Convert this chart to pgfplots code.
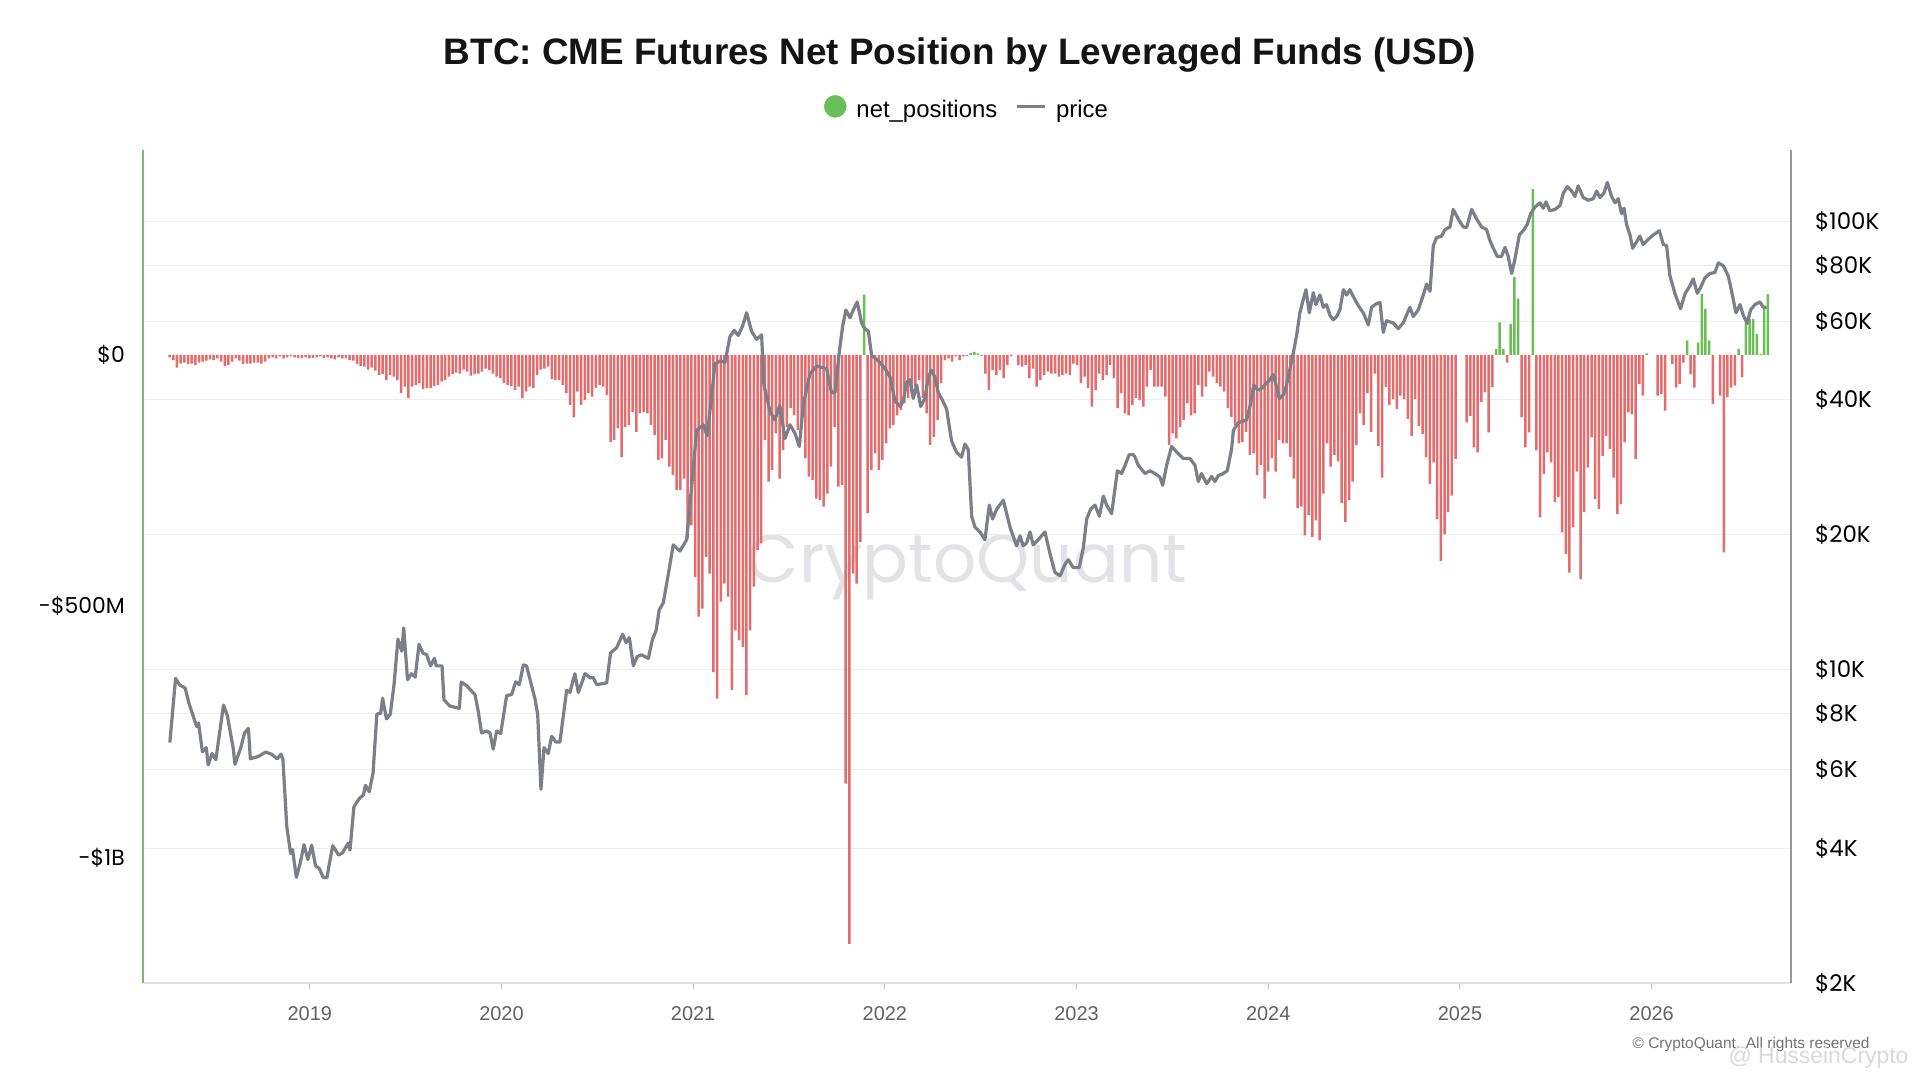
\documentclass[border=0pt]{standalone}
\usepackage{pgfplots}
\pgfplotsset{compat=1.18}
\usepackage{pgfplotstable}
\usepackage{fontspec}
\setmainfont{Liberation Sans}
\newfontfamily\pop{Poppins}
\definecolor{barred}{RGB}{228,108,108}
\definecolor{bargreen}{RGB}{106,190,86}
\definecolor{pricegray}{RGB}{124,126,136}
\definecolor{axgreen}{RGB}{125,185,115}
\definecolor{axgray}{RGB}{150,150,150}
\definecolor{gridc}{RGB}{238,238,241}
\definecolor{wm}{RGB}{226,226,231}

\pgfplotstableread[row sep=\\]{v\\
-5\\-10\\-25\\-17\\-15\\-18\\-17\\-20\\-15\\-13\\
-11\\-9\\-10\\-7\\-13\\-22\\-20\\-13\\-7\\-11\\
-18\\-17\\-17\\-15\\-15\\-17\\-13\\-7\\-5\\-7\\
-3\\-7\\-5\\-3\\-5\\-6\\-7\\-5\\-7\\-6\\
-5\\-3\\-6\\-5\\-7\\-9\\-5\\-7\\-7\\-10\\
-11\\-18\\-22\\-23\\-29\\-25\\-31\\-40\\-38\\-50\\
-40\\-43\\-50\\-76\\-63\\-86\\-63\\-60\\-56\\-68\\
-66\\-66\\-62\\-60\\-53\\-50\\-43\\-38\\-35\\-37\\
-29\\-33\\-41\\-38\\-37\\-33\\-27\\-30\\-37\\-43\\
-46\\-56\\-60\\-62\\-70\\-63\\-86\\-73\\-63\\-66\\
-40\\-29\\-27\\-23\\-48\\
-50\\-50\\-60\\-76\\-100\\-124\\-73\\-100\\-90\\-76\\
-83\\-66\\-60\\-63\\-80\\-173\\-169\\-146\\-203\\-143\\
-139\\-113\\-153\\-116\\-113\\-116\\-139\\-159\\-209\\-206\\
-169\\-222\\-239\\-269\\-269\\-246\\-365\\-339\\-442\\-521\\
-505\\-402\\-435\\-631\\-684\\-491\\-455\\-481\\-667\\-548\\
-568\\-581\\-677\\-548\\-461\\-388\\-375\\-169\\-252\\-229\\
-156\\-246\\-189\\-143\\-106\\-120\\-149\\-143\\-206\\-242\\
-249\\-286\\-289\\-302\\-276\\-222\\-143\\-262\\-259\\-853\\
-1172\\-435\\-455\\-372\\120\\-315\\-229\\-196\\-229\\-209\\
-176\\-146\\-139\\-120\\-110\\-96\\-86\\-76\\-63\\-50\\
-86\\-116\\-179\\-163\\-129\\-56\\-10\\-7\\-13\\-3\\
-10\\-3\\
-2\\4\\6\\3\\-2\\-37\\-70\\-30\\-40\\-30\\
-46\\-20\\-3\\0\\-20\\-23\\-20\\-46\\-27\\-63\\
-50\\-40\\-33\\-37\\-37\\-43\\-40\\-37\\-40\\-17\\
-20\\-56\\-43\\-66\\-103\\-70\\-37\\-50\\-40\\-20\\
-46\\-106\\-76\\-116\\-120\\-100\\-86\\-90\\-103\\-63\\
-30\\-63\\-63\\-63\\-83\\-179\\-156\\-166\\-143\\-129\\
-96\\-120\\-116\\-60\\-83\\-63\\-33\\-43\\-56\\-63\\
-73\\-106\\-123\\-139\\-176\\-173\\-153\\-199\\-196\\-239\\
-219\\-286\\-232\\-206\\-232\\-169\\-176\\-176\\-203\\-246\\
-305\\-302\\-359\\-319\\-362\\-329\\-369\\-276\\-176\\-222\\
-199\\-212\\-295\\-332\\-289\\-252\\-179\\-116\\-139\\-76\\
-153\\-37\\
-181\\-244\\-64\\-100\\-88\\-108\\-81\\-88\\-127\\-161\\
-88\\-141\\-157\\-204\\-257\\-214\\-327\\-410\\-357\\-313\\
-280\\-207\\0\\0\\-134\\-121\\-184\\-194\\-94\\-74\\
-154\\-64\\12\\65\\12\\-15\\62\\155\\112\\-124\\
-184\\-154\\330\\-190\\-323\\-237\\-194\\-214\\-293\\-283\\
-353\\-396\\-433\\-343\\-232\\-446\\-313\\-224\\-164\\-287\\
-307\\-201\\-161\\-187\\-244\\-317\\-297\\-174\\-114\\-118\\
-207\\-58\\-81\\3\\0\\0\\-81\\-78\\-111\\0\\
-18\\-65\\-58\\-15\\29\\-38\\-65\\25\\121\\92\\
29\\-98\\0\\-81\\-393\\-84\\-65\\-61\\12\\-44\\
65\\72\\72\\42\\2\\92\\121\\
}\netpos

\pgfplotstableread[row sep=\\]{yr p\\
2018.27 6880\\ 2018.30 9570\\ 2018.32 9260\\ 2018.35 9100\\ 2018.37 8410\\
2018.41 7470\\ 2018.42 7600\\ 2018.44 6560\\ 2018.46 6700\\ 2018.47 6130\\
2018.49 6500\\ 2018.51 6300\\ 2018.55 8340\\ 2018.57 7900\\ 2018.60 6700\\
2018.61 6150\\ 2018.64 6700\\ 2018.66 7230\\ 2018.68 7400\\ 2018.69 6330\\
2018.73 6400\\ 2018.77 6550\\ 2018.80 6480\\ 2018.83 6330\\ 2018.85 6480\\
2018.86 6300\\ 2018.88 4470\\ 2018.90 3890\\ 2018.91 3970\\ 2018.93 3440\\
2018.95 3700\\ 2018.97 4070\\ 2018.99 3770\\ 2019.01 4060\\ 2019.03 3650\\
2019.05 3600\\ 2019.07 3440\\ 2019.09 3440\\ 2019.10 3650\\ 2019.12 4050\\
2019.15 3860\\ 2019.17 3900\\ 2019.20 4100\\ 2019.21 3960\\ 2019.23 4940\\
2019.26 5170\\ 2019.28 5250\\ 2019.29 5520\\ 2019.31 5340\\ 2019.33 5880\\
2019.35 7960\\ 2019.37 8000\\ 2019.38 8640\\ 2019.40 7770\\ 2019.42 7960\\
2019.44 9300\\ 2019.46 11700\\ 2019.48 11000\\ 2019.49 12400\\ 2019.51 9500\\
2019.53 9800\\ 2019.55 9630\\ 2019.57 11400\\ 2019.59 10900\\ 2019.61 10800\\
2019.63 10200\\ 2019.65 10600\\ 2019.66 10200\\ 2019.69 10200\\ 2019.70 8570\\
2019.73 8300\\ 2019.78 8200\\ 2019.79 9390\\ 2019.82 9200\\ 2019.84 9000\\
2019.862 8800\\ 2019.879 8070\\ 2019.896 7230\\ 2019.923 7300\\ 2019.940 7230\\
2019.957 6650\\ 2019.975 7300\\ 2019.996 7200\\ 2020.027 8760\\ 2020.053 8800\\
2020.074 9400\\ 2020.093 9260\\ 2020.114 10250\\ 2020.131 10200\\ 2020.152 9400\\
2020.175 8600\\ 2020.189 7950\\ 2020.206 5410\\ 2020.222 6700\\ 2020.244 6500\\
2020.262 7100\\ 2020.284 6900\\ 2020.305 6900\\ 2020.340 9000\\ 2020.357 8900\\
2020.383 9800\\ 2020.401 8900\\ 2020.436 9800\\ 2020.462 9600\\ 2020.479 9600\\
2020.496 9270\\ 2020.522 9300\\ 2020.549 9350\\ 2020.569 10900\\ 2020.601 11200\\
2020.632 12000\\ 2020.650 11500\\ 2020.667 11800\\ 2020.688 10200\\ 2020.708 10700\\
2020.731 10800\\ 2020.748 10700\\ 2020.766 10600\\ 2020.788 11700\\ 2020.806 12200\\
2020.823 13600\\ 2020.844 14100\\ 2020.870 16300\\ 2020.896 19000\\ 2020.931 18400\\
2020.966 19500\\ 2020.992 25600\\ 2021.018 34200\\ 2021.053 35200\\ 2021.073 33300\\
2021.091 38900\\ 2021.114 48200\\ 2021.143 48900\\ 2021.166 48500\\ 2021.192 55400\\
2021.215 57200\\ 2021.235 55700\\ 2021.258 58500\\ 2021.279 62600\\ 2021.305 56900\\
2021.331 54600\\ 2021.357 55900\\ 2021.369 43200\\ 2021.401 37700\\ 2021.426 36100\\
2021.452 38900\\ 2021.479 32800\\ 2021.505 35200\\ 2021.531 33700\\ 2021.554 31500\\
2021.575 39200\\ 2021.609 45700\\ 2021.644 47600\\ 2021.696 47000\\ 2021.722 41500\\
2021.740 41500\\ 2021.762 51000\\ 2021.780 58500\\ 2021.797 63500\\ 2021.818 61000\\
2021.835 63500\\ 2021.856 66200\\ 2021.879 59300\\ 2021.896 57700\\ 2021.914 56900\\
2021.931 50300\\ 2021.966 48900\\ 2022.001 47000\\ 2022.027 45000\\ 2022.053 39800\\
2022.079 38700\\ 2022.096 39800\\ 2022.114 43800\\ 2022.131 44400\\ 2022.148 40300\\
2022.166 43200\\ 2022.187 38700\\ 2022.209 40300\\ 2022.227 45000\\ 2022.244 46600\\
2022.261 45000\\ 2022.279 41500\\ 2022.296 40300\\ 2022.322 38200\\ 2022.348 32400\\
2022.374 30600\\ 2022.400 29800\\ 2022.418 31900\\ 2022.435 31000\\ 2022.453 22000\\
2022.470 20800\\ 2022.496 20300\\ 2022.522 19500\\ 2022.545 23300\\ 2022.562 21700\\
2022.583 22800\\ 2022.618 23900\\ 2022.653 20800\\ 2022.687 18900\\ 2022.705 19900\\
2022.722 18900\\ 2022.740 19200\\ 2022.757 20300\\ 2022.774 19000\\ 2022.800 19500\\
2022.835 20300\\ 2022.861 18200\\ 2022.887 16500\\ 2022.914 16200\\ 2022.940 17200\\
2022.957 17600\\ 2022.983 16900\\ 2023.014 16900\\ 2023.035 18700\\ 2023.053 21700\\
2023.073 22800\\ 2023.096 23300\\ 2023.119 22000\\ 2023.140 24400\\ 2023.157 23300\\
2023.183 22300\\ 2023.213 27800\\ 2023.235 27400\\ 2023.253 28600\\ 2023.275 30200\\
2023.296 30200\\ 2023.305 29800\\ 2023.322 28600\\ 2023.357 27400\\ 2023.383 27800\\
2023.409 27400\\ 2023.435 26900\\ 2023.449 25800\\ 2023.470 28600\\ 2023.496 31500\\
2023.522 30600\\ 2023.557 29600\\ 2023.592 29600\\ 2023.618 28600\\ 2023.635 26300\\
2023.652 27400\\ 2023.679 26000\\ 2023.705 27000\\ 2023.722 26300\\ 2023.739 27100\\
2023.765 27400\\ 2023.786 27800\\ 2023.809 31100\\ 2023.818 34200\\ 2023.844 35600\\
2023.887 36100\\ 2023.905 38700\\ 2023.925 43200\\ 2023.939 42300\\ 2023.957 42100\\
2023.983 43200\\ 2024.009 44400\\ 2024.026 45600\\ 2024.044 42700\\ 2024.058 40300\\
2024.079 41100\\ 2024.096 43200\\ 2024.113 46900\\ 2024.131 51000\\ 2024.148 55700\\
2024.165 62600\\ 2024.183 67100\\ 2024.197 70500\\ 2024.214 62600\\ 2024.235 69400\\
2024.249 65300\\ 2024.270 68600\\ 2024.287 64400\\ 2024.304 65300\\ 2024.322 61800\\
2024.339 60400\\ 2024.357 61400\\ 2024.374 63600\\ 2024.392 70500\\ 2024.409 68600\\
2024.426 70500\\ 2024.444 68000\\ 2024.470 64900\\ 2024.496 62600\\ 2024.522 58800\\
2024.539 64400\\ 2024.565 65600\\ 2024.583 66000\\ 2024.600 56600\\ 2024.617 60100\\
2024.652 59400\\ 2024.678 57700\\ 2024.704 59400\\ 2024.739 64400\\ 2024.757 61400\\
2024.783 63600\\ 2024.809 68600\\ 2024.826 72500\\ 2024.844 69900\\ 2024.861 88300\\
2024.878 92100\\ 2024.904 92800\\ 2024.922 95900\\ 2024.948 97300\\ 2024.965 106500\\
2024.991 101400\\ 2025.017 97300\\ 2025.035 97000\\ 2025.061 106500\\ 2025.087 101400\\
2025.113 97300\\ 2025.139 96000\\ 2025.156 90800\\ 2025.174 87200\\ 2025.195 83600\\
2025.217 83600\\ 2025.235 87600\\ 2025.252 83600\\ 2025.270 76600\\ 2025.287 82500\\
2025.310 93400\\ 2025.334 95900\\ 2025.351 98600\\ 2025.369 104200\\ 2025.391 107700\\
2025.417 110100\\ 2025.435 107100\\ 2025.449 110700\\ 2025.469 105700\\ 2025.496 106500\\
2025.522 108600\\ 2025.539 115700\\ 2025.560 119600\\ 2025.583 117000\\ 2025.600 113800\\
2025.617 120200\\ 2025.643 113200\\ 2025.669 111600\\ 2025.696 112500\\ 2025.713 117000\\
2025.730 113200\\ 2025.751 115700\\ 2025.769 122300\\ 2025.791 113800\\ 2025.809 110100\\
2025.826 112500\\ 2025.843 104200\\ 2025.856 107100\\ 2025.869 98600\\ 2025.887 93400\\
2025.901 87200\\ 2025.918 89600\\ 2025.939 92800\\ 2025.956 88900\\ 2025.982 91300\\
2026.009 93400\\ 2026.040 95400\\ 2026.061 88900\\ 2026.078 88400\\ 2026.095 75900\\
2026.122 69000\\ 2026.151 63900\\ 2026.174 69000\\ 2026.200 71900\\ 2026.217 74500\\
2026.238 69200\\ 2026.255 71200\\ 2026.278 74900\\ 2026.304 76600\\ 2026.330 77000\\
2026.348 80900\\ 2026.374 79700\\ 2026.400 75600\\ 2026.417 70000\\ 2026.440 62600\\
2026.461 65300\\ 2026.478 61800\\ 2026.499 59300\\ 2026.516 63500\\ 2026.539 65300\\
2026.565 66200\\ 2026.582 64400\\ 2026.600 64400\\
}\price

\begin{document}
\begin{tikzpicture}
\useasboundingbox (0bp,0bp) rectangle (1920bp,1080bp);
% title
\node[font=\bfseries\fontsize{37}{41}\selectfont, text=black!92] at (960bp,1025bp) {BTC: CME Futures Net Position by Leveraged Funds (USD)};
% watermark
\node[font=\pop\fontsize{68}{72}\selectfont, text=wm] at (967bp,513bp) {CryptoQuant};

% grid + right axis + x axis
\begin{axis}[at={(143bp,97bp)}, anchor=south west, scale only axis,
  width=1648bp, height=833bp,
  xmin=2018.13, xmax=2026.727,
  ymode=log, ymin=2000, ymax=144500,
  axis x line*=bottom, axis y line*=right,
  axis line style={-},
  x axis line style={draw=black!12, line width=1.5bp},
  y axis line style={draw=axgray, line width=2.5bp},
  xtick={2019,2020,2021,2022,2023,2024,2025,2026},
  xticklabels={2019,2020,2021,2022,2023,2024,2025,2026},
  xticklabel style={font=\fontsize{20}{22}\selectfont, text=black!62, anchor=center, yshift=-25bp},
  major x tick style={draw=black!25, line width=1bp},
  tick align=outside, major tick length=6bp,
  ytick={2000,4000,6000,8000,10000,20000,40000,60000,80000,100000},
  yticklabels={\$2K,\$4K,\$6K,\$8K,\$10K,\$20K,\$40K,\$60K,\$80K,\$100K},
  yticklabel style={font=\pop\fontsize{23}{25}\selectfont, text=black, anchor=west, inner sep=0pt, xshift=18bp},
  major y tick style={draw=none},
  minor ytick={},
  ymajorgrids, grid style={draw=gridc, line width=1bp},
  clip=false]
\addplot[draw=none, forget plot] coordinates {(2020,10000)};
\end{axis}

% bars + left axis + legend
\begin{axis}[at={(143bp,97bp)}, anchor=south west, scale only axis,
  width=1648bp, height=833bp,
  xmin=-7.25, xmax=441.3, ymin=-1250, ymax=408,
  axis x line=none, axis y line*=left,
  axis line style={-},
  y axis line style={draw=axgreen, line width=2.5bp},
  ytick={-1000,-500,0}, yticklabels={-\$1B,-\$500M,\$0},
  major y tick style={draw=none},
  yticklabel style={font=\pop\fontsize{22}{24}\selectfont, text=black, anchor=east, inner sep=0pt, xshift=-18bp},
  legend style={at={(0.5,1)}, anchor=center, yshift=42bp, draw=none, fill=none,
    font=\fontsize{24}{26}\selectfont, legend columns=2,
    /tikz/every odd column/.append style={column sep=8bp},
    /tikz/every even column/.append style={column sep=16bp}},
  legend cell align=left]
\addplot[ybar, bar width=2.5bp, bar shift=0pt, fill=barred, draw=none, forget plot,
  y filter/.expression={y<0 ? y : nan}, unbounded coords=discard]
  table[x expr=\coordindex, y=v] {\netpos};
\addplot[ybar, bar width=2.5bp, bar shift=0pt, fill=bargreen, draw=none, forget plot,
  y filter/.expression={y>0 ? y : nan}, unbounded coords=discard]
  table[x expr=\coordindex, y=v] {\netpos};
\addlegendimage{legend image code/.code={\fill[bargreen] (11bp,3bp) circle (11bp);}}
\addlegendentry{net\_positions}
\addlegendimage{legend image code/.code={\draw[pricegray, line width=2.8bp] (0bp,3bp) -- (28bp,3bp);}}
\addlegendentry{price}
\end{axis}

% price line
\begin{axis}[at={(143bp,97bp)}, anchor=south west, scale only axis,
  width=1648bp, height=833bp,
  xmin=2018.13, xmax=2026.727,
  ymode=log, ymin=2000, ymax=144500, hide axis]
\addplot[pricegray, line width=3.2bp, line join=round] table[x=yr, y=p] {\price};
\end{axis}

% footer
\node[font=\fontsize{15.5}{17}\selectfont, text=black!55, anchor=east] at (1873bp,35bp) {\textcopyright{} CryptoQuant. All rights reserved};
\node[font=\fontsize{23}{25}\selectfont, text=black!15, anchor=east] at (1912bp,22bp) {@ HusseinCrypto};
\end{tikzpicture}
\end{document}
